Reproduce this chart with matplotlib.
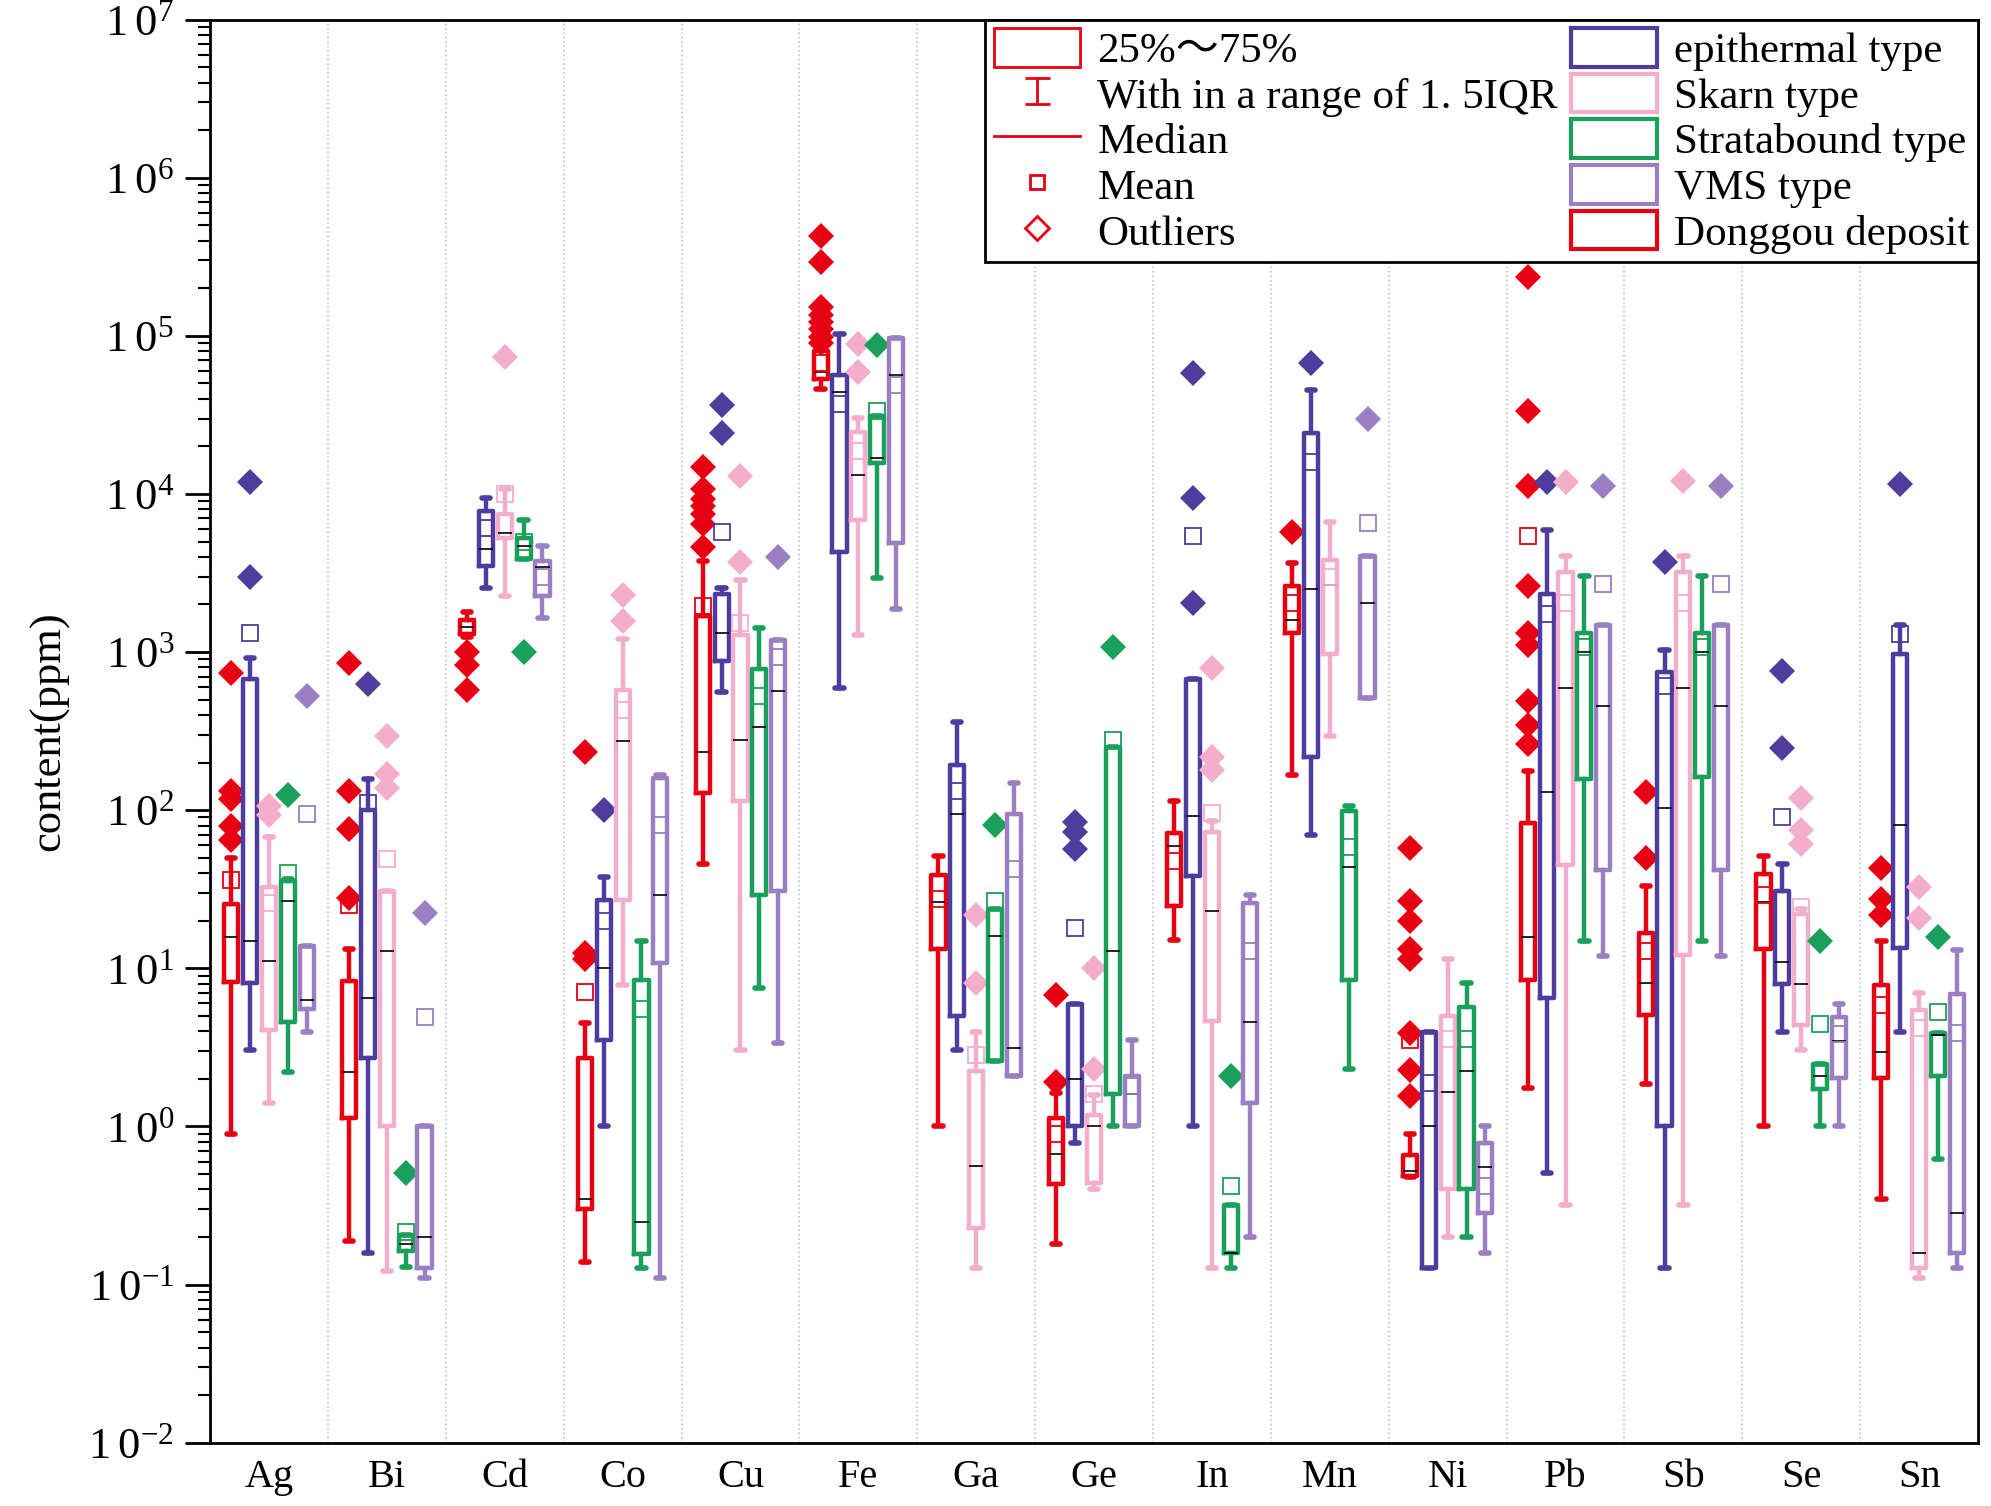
import matplotlib
matplotlib.use('Agg')
import matplotlib.pyplot as plt
from matplotlib.lines import Line2D
from matplotlib.patches import Patch
from matplotlib.legend_handler import HandlerErrorbar
from matplotlib.container import ErrorbarContainer
from matplotlib.ticker import LogLocator, FuncFormatter, NullFormatter
import numpy as np

plt.rcParams['font.family'] = ['Liberation Serif', 'Noto Sans CJK SC']
plt.rcParams['mathtext.default'] = 'regular'

elements = ['Ag', 'Bi', 'Cd', 'Co', 'Cu', 'Fe', 'Ga', 'Ge', 'In', 'Mn', 'Ni', 'Pb', 'Sb', 'Se', 'Sn']

# rows: [whisker low, q1, median, q3, whisker high, mean]  (ppm)
donggou = [
    [0.89, 8.2, 15.7, 25.6, 50, 36],
    [0.19, 1.13, 2.2, 8.35, 13.2, 25],
    [1250, 1310, 1445, 1585, 1790, 1450],
    [0.138, 0.30, 0.347, 2.72, 4.5, 7.1],
    [45.8, 128, 234, 1700, 3785, 1960],
    [46300, 53300, 59300, 80000, 85000, 67300],
    [1.0, 13.2, 26.4, 39.2, 51.7, 27.5],
    [0.181, 0.43, 0.672, 1.13, 1.63, 0.893],
    [15.2, 24.7, 59.6, 71.6, 114, 47.4],
    [168, 1330, 1585, 2600, 3650, 2030],
    [0.48, 0.489, 0.525, 0.658, 0.893, 3.5],
    [1.75, 8.47, 15.8, 82.6, 176, 5460],
    [1.85, 5.08, 8.05, 16.7, 33.3, 12.9],
    [1.0, 13.2, 26.4, 39.7, 51.7, 28.9],
    [0.35, 2.02, 2.94, 7.88, 14.9, 5.85],
]
donggou_out = [
    [740, 133, 118, 80, 65], [855, 133, 76, 28], [1000, 830, 580], [234, 12.5, 11.5],
    [14900, 10700, 9300, 8400, 7500, 6500, 4600],
    [430000, 293000, 152000, 136000, 123000, 110000, 99000, 90000],
    [], [6.75, 1.92], [], [5740],
    [58, 26.6, 20, 13.2, 11.5, 3.88, 2.27, 1.55],
    [237000, 33600, 11300, 2600, 1330, 1110, 493, 346, 261],
    [130, 50.2], [], [43.3, 27.5, 21.7],
]

epithermal = [
    [3.03, 8.05, 14.9, 678, 918, 1330],
    [0.159, 2.72, 6.5, 100, 158, 111],
    [2545, 3520, 4480, 7780, 9480, 6070],
    [1.0, 3.5, 10, 26.9, 37.6, 20],
    [556, 880, 1330, 2340, 2560, 5780],
    [589, 4320, 44000, 56400, 102800, 36900],
    [3.03, 4.97, 94.5, 192, 359, 133],
    [0.79, 1.0, 1.99, 5.93, 5.93, 17.9],
    [1.0, 38.4, 91.8, 678, 678, 5460],
    [70, 218, 2510, 24200, 45600, 16000],
    [0.127, 0.127, 1.0, 3.96, 3.96, 1.88],
    [0.506, 6.5, 130, 2340, 5940, 1740],
    [0.127, 1.0, 104, 743, 1035, 609],
    [3.96, 7.94, 10.9, 31, 45.8, 90],
    [3.96, 13.5, 81, 966, 1475, 1310],
]
epithermal_out = [
    [11900, 2990], [630], [], [100], [36400, 24200], [], [], [83.8, 72.6, 56.6],
    [58400, 9480, 2030], [67300], [], [11900], [3700], [754, 248], [11500],
]

skarn = [
    [1.4, 4.1, 11.2, 32.6, 68, 26],
    [0.122, 1.0, 12.9, 31, 31, 49],
    [2255, 5250, 5670, 7510, 10700, 10000],
    [7.9, 27, 276, 578, 1210, 430],
    [3.03, 115, 280, 1280, 2850, 1530],
    [1280, 6850, 13200, 24500, 30300, 18800],
    [0.127, 0.227, 0.562, 2.24, 3.96, 2.82],
    [0.40, 0.44, 1.0, 1.19, 1.58, 1.61],
    [0.127, 4.67, 22.9, 72.7, 85.5, 96.6],
    [296, 967, 2640, 3840, 6650, 2990],
    [0.2, 0.40, 1.66, 5.0, 11.5, 3.56],
    [0.319, 45.2, 589, 3210, 4060, 2030],
    [0.319, 12.1, 589, 3210, 4060, 2030],
    [3.03, 4.41, 7.94, 22.2, 23.6, 24.5],
    [0.11, 0.127, 0.159, 5.45, 7.0, 4.17],
]
skarn_out = [
    [107, 93], [296, 170, 138], [73200], [2310, 1570], [12900, 3700], [89300, 59300],
    [21.7, 8.05], [10, 2.3], [798, 218, 180], [], [], [11900], [12000],
    [119, 75.4, 60.8], [32.8, 20.7],
]

stratabound = [
    [2.2, 4.6, 26.7, 35.7, 37, 40],
    [0.13, 0.164, 0.18, 0.205, 0.205, 0.216],
    [3890, 3890, 4680, 5270, 6850, 5000],
    [0.127, 0.157, 0.249, 8.5, 14.9, 5.5],
    [7.5, 28.9, 334, 781, 1425, 530],
    [2950, 15800, 16900, 31000, 31000, 33600],
    [2.59, 2.59, 16, 23.7, 23.7, 26.5],
    [1.0, 1.61, 12.9, 251, 251, 280],
    [0.127, 0.159, 0.159, 0.319, 0.319, 0.418],
    [2.3, 8.47, 43.6, 98.6, 107, 58.8],
    [0.2, 0.40, 2.24, 5.73, 8.05, 3.56],
    [14.9, 158, 1000, 1330, 3030, 1070],
    [14.9, 162, 1000, 1330, 3030, 1070],
    [1.0, 1.73, 2.09, 2.5, 2.5, 4.47],
    [0.627, 2.09, 3.8, 3.88, 3.88, 5.33],
]
stratabound_out = [
    [124], [0.506], [1000], [], [], [87500], [81], [1080], [2.09], [], [], [], [],
    [14.9], [15.8],
]

vms = [
    [3.96, 5.5, 6.3, 13.9, 13.9, 94],
    [0.11, 0.127, 0.2, 1.0, 1.0, 4.9],
    [1640, 2255, 3450, 3780, 4680, 3000],
    [0.11, 10.8, 28.9, 159, 168, 81],
    [3.39, 31, 568, 1195, 1195, 933],
    [1860, 4910, 56400, 97000, 97000, 49000],
    [2.09, 2.09, 3.13, 94.5, 148, 42.7],
    [1.0, 1.0, 1.6, 2.09, 3.5, 1.8],
    [0.2, 1.4, 4.6, 25.9, 28.9, 12.8],
    [511, 511, 2030, 4030, 4030, 6520],
    [0.159, 0.283, 0.555, 0.79, 1.0, 0.42],
    [11.9, 42, 453, 1475, 1475, 2690],
    [11.9, 42, 453, 1475, 1475, 2690],
    [1.0, 2.02, 3.48, 4.96, 5.93, 3.86],
    [0.127, 0.159, 0.282, 6.84, 13.0, 3.9],
]
vms_out = [
    [528], [22.5], [], [], [4000], [], [], [], [], [29900], [], [11300], [11300], [], [],
]

types = ['Donggou deposit', 'epithermal type', 'Skarn type', 'Stratabound type', 'VMS type']
colors = ['#E60012', '#4E3C9E', '#F4AECD', '#1AA05A', '#9C7EC3']
offsets = [-0.32, -0.16, 0.0, 0.16, 0.32]
series = [(donggou, donggou_out), (epithermal, epithermal_out), (skarn, skarn_out),
          (stratabound, stratabound_out), (vms, vms_out)]

fig = plt.figure(figsize=(19.91, 15.06), dpi=100)
ax = fig.add_axes([0.1055, 0.042, 0.888, 0.945])

x = np.arange(len(elements))
for (rows, outs), col, off in zip(series, colors, offsets):
    stats = []
    for r, o in zip(rows, outs):
        stats.append(dict(whislo=r[0], q1=r[1], med=r[2], q3=r[3], whishi=r[4],
                          mean=r[5], fliers=o))
    ax.bxp(stats, positions=x + off, widths=0.12, capwidths=0.07,
           showmeans=True, manage_ticks=False,
           boxprops=dict(color=col, lw=3.2, solid_joinstyle='round'),
           whiskerprops=dict(color=col, lw=3.2),
           capprops=dict(color=col, lw=4, solid_capstyle='round'),
           medianprops=dict(color='black', lw=1.2),
           meanprops=dict(marker='s', markersize=11, markerfacecolor='none',
                          markeredgecolor=col, markeredgewidth=1.3),
           flierprops=dict(marker='D', markersize=13, markerfacecolor=col,
                           markeredgecolor=col, markeredgewidth=0))

ax.set_yscale('log')
ax.set_ylim(1e-2, 1e7)
ax.set_xlim(-0.5, len(elements) - 0.5)

ax.yaxis.set_major_locator(LogLocator(base=10, numticks=20))
ax.yaxis.set_minor_locator(LogLocator(base=10, subs=np.arange(2, 10), numticks=20))
ax.yaxis.set_minor_formatter(NullFormatter())
ax.yaxis.set_major_formatter(FuncFormatter(lambda v, p: r'$1\,0^{%d}$' % round(np.log10(v))))
ax.tick_params(axis='y', which='major', direction='out', length=18, width=2, labelsize=32, pad=8)
ax.tick_params(axis='y', which='minor', direction='out', length=9, width=1.5)

ax.set_xticks(x)
ax.set_xticklabels(elements)
ax.set_xticks(np.arange(0.5, len(elements) - 0.5, 1), minor=True)
ax.tick_params(axis='x', which='both', length=0, labelsize=29, pad=12)
ax.grid(which='minor', axis='x', color='#c4c4c4', linestyle=':', lw=1.2)

for s in ax.spines.values():
    s.set_linewidth(2)

ax.set_ylabel('content(ppm)', fontsize=32, labelpad=14)

# legend
red = colors[0]
whisk = ax.errorbar([np.nan], [np.nan], yerr=[1], fmt='none', ecolor=red,
                    elinewidth=2, capsize=9, capthick=2)
handles = [
    Patch(facecolor='none', edgecolor=red, lw=2),
    whisk,
    Line2D([], [], color=red, lw=2),
    Line2D([], [], ls='none', marker='s', markersize=10, markerfacecolor='none',
           markeredgecolor=red, markeredgewidth=2),
    Line2D([], [], ls='none', marker='D', markersize=12, markerfacecolor='none',
           markeredgecolor=red, markeredgewidth=2),
]
labels = ['25%～75%', 'With in a range of 1. 5IQR', 'Median', 'Mean', 'Outliers']
for t in [1, 2, 3, 4, 0]:
    handles.append(Patch(facecolor='none', edgecolor=colors[t], lw=3))
    labels.append(types[t])

leg = ax.legend(handles, labels, ncol=2, loc='upper right', bbox_to_anchor=(1, 1),
                borderaxespad=0, fontsize=31, frameon=True, fancybox=False,
                framealpha=1, edgecolor='black', handlelength=2.0, handleheight=1.0,
                labelspacing=0.06, columnspacing=0.3, borderpad=0.2, handletextpad=0.4,
                handler_map={ErrorbarContainer: HandlerErrorbar(xerr_size=0.5, yerr_size=0.3)})
leg.get_frame().set_linewidth(2)

fig.savefig('out.png', dpi=100)
